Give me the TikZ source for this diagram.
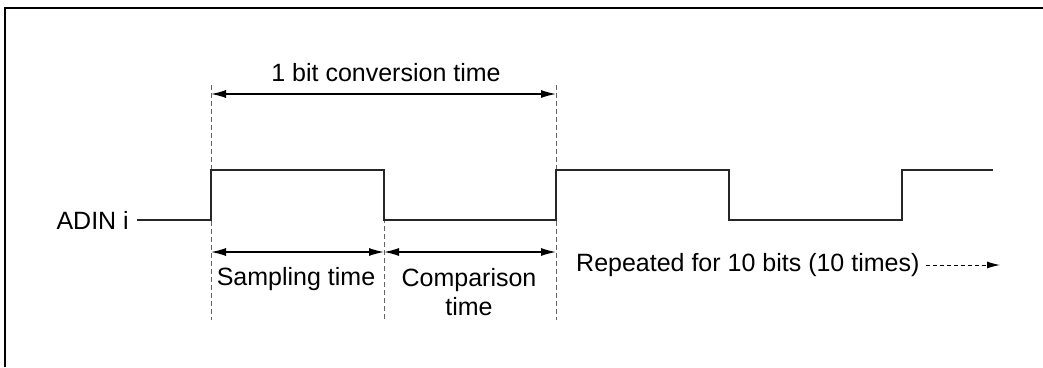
\documentclass[tikz,border=0pt]{standalone}
\usepackage{fontspec}
\setmainfont{Liberation Sans}
\usetikzlibrary{arrows.meta}
\begin{document}
\begin{tikzpicture}[x=1pt,y=-1pt,
  lbl/.style={font=\fontsize{25}{29}\selectfont, inner sep=0pt, align=center},
  sig/.style={line width=1.3pt, black!85},
  guide/.style={line width=1pt, gray!80!black, dash pattern=on 5pt off 3pt},
  dim/.style={line width=1.3pt, {Latex[length=15pt,width=8pt]}-{Latex[length=15pt,width=8pt]}},
  frame/.style={line width=1.6pt}]
\useasboundingbox (0,0) rectangle (1043,367);
% frame
\draw[frame] (5,367) -- (5,8) -- (1043,8);
% guides
\coordinate (g1t) at (211,85); \coordinate (g1b) at (211,320);
\coordinate (g2t) at (384,170); \coordinate (g2b) at (384,320);
\coordinate (g3t) at (556,85); \coordinate (g3b) at (556,320);
\draw[guide] (g1t) -- (g1b);
\draw[guide] (g2t) -- (g2b);
\draw[guide] (g3t) -- (g3b);
% signal
\node[lbl, anchor=east] (adin) at (129,220) {ADIN i};
\coordinate (s0) at (137,220);
\coordinate (send) at (993,170);
\draw[sig] (s0) -- (211,220) -- (211,170) -- (384,170) -- (384,220) -- (556,220)
  -- (556,170) -- (729,170) -- (729,220) -- (902,220) -- (902,170) -- (send);
% top dimension
\coordinate (a1) at (211,94); \coordinate (a2) at (556,94);
\draw[dim] (a1) -- (a2);
\node[lbl] (conv) at (386,73) {1 bit conversion time};
% bottom dimensions
\coordinate (b1) at (211,252); \coordinate (b2) at (384,252); \coordinate (b3) at (556,252);
\draw[dim] (b1) -- (b2);
\draw[dim] (b2) -- (b3);
\node[lbl] (samp) at (296,279) {Sampling time};
\node[lbl] (comp) at (469,292) {Comparison\\time};
% repeated
\node[lbl, anchor=west] (rep) at (576,265) {Repeated for 10 bits (10 times)};
\coordinate (r2) at (1000,265);
\draw[line width=1pt, dash pattern=on 4pt off 3pt, -{Latex[length=13pt,width=7pt]}] ([xshift=6pt]rep.east) -- (r2);
\end{tikzpicture}
\end{document}
